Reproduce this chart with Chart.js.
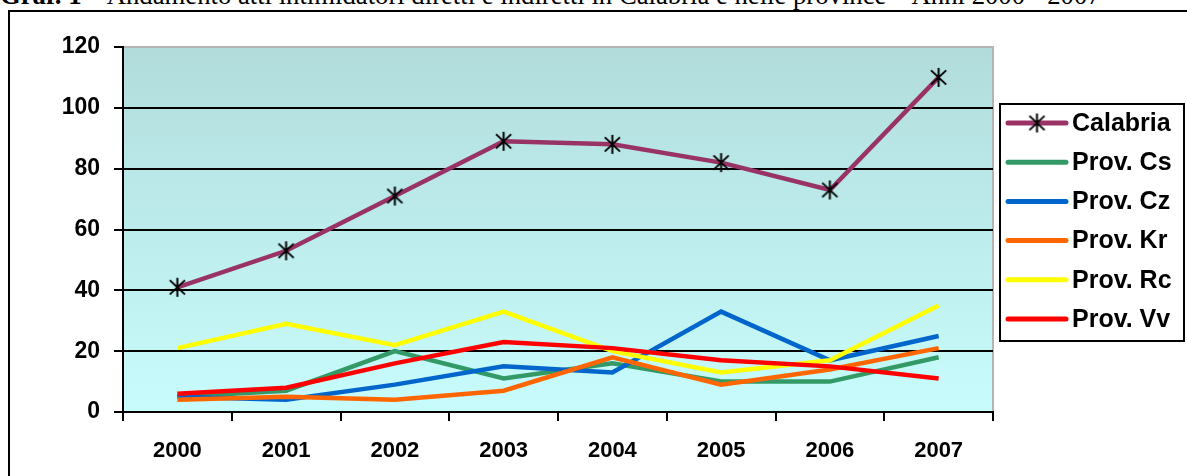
<!DOCTYPE html>
<html>
<head>
<meta charset="utf-8">
<script src="https://cdn.jsdelivr.net/npm/chart.js@4.4.1/dist/chart.umd.min.js"></script>
<style>
    html, body { margin: 0; padding: 0; background: #fff; overflow: hidden; }
    #wrap { position: relative; width: 1187px; height: 476px; }
    #title {
        position: absolute; left: 0; top: -18px; white-space: nowrap; line-height: 1;
        font-family: 'Liberation Serif', 'Times New Roman', serif; font-size: 26.7px; color: #000;
    }
    #frame {
        position: absolute; left: 8px; top: 10px; width: 1300px; height: 600px;
        border-top: 2px solid #000; border-left: 2px solid #000;
    }
    #chart { position: absolute; left: 0; top: 0; }
</style>
</head>
<body>
<div id="wrap">
    <div id="title"><b>Graf. 1</b> – Andamento atti intimidatori diretti e indiretti in Calabria e nelle province – Anni 2000 - 2007</div>
    <div id="frame"></div>
    <canvas id="chart" width="1187" height="476"></canvas>
</div>
<script>
const years = ['2000', '2001', '2002', '2003', '2004', '2005', '2006', '2007']
const yTicks = [0, 20, 40, 60, 80, 100, 120]

const seriesNames  = ['Calabria', 'Prov. Cs', 'Prov. Cz', 'Prov. Kr', 'Prov. Rc', 'Prov. Vv']
const seriesColors = ['#993366', '#339966', '#0066CC', '#FF6600', '#FFFF00', '#FF0000']

const calabria = [41, 53, 71, 89, 88, 82, 73, 110]
const provCs   = [5, 7, 20, 11, 16, 10, 10, 18]
const provCz   = [5, 4, 9, 15, 13, 33, 17, 25]
const provKr   = [4, 5, 4, 7, 18, 9, 14, 21]
const provRc   = [21, 29, 22, 33, 20, 13, 17, 35]
const provVv   = [6, 8, 16, 23, 21, 17, 15, 11]

const seriesValues = [calabria, provCs, provCz, provKr, provRc, provVv]

const FONT = "'Liberation Sans', Arial, sans-serif"

// Excel style star marker: X plus vertical bar
function makeStar(size) {
    const c   = document.createElement('canvas')
    c.width   = size
    c.height  = size
    const g   = c.getContext('2d')
    const m   = size / 2
    const r   = size / 2 - 1
    g.strokeStyle = '#000'
    g.lineWidth   = 2
    g.beginPath()
    g.moveTo(m, m - r); g.lineTo(m, m + r)
    g.moveTo(m - r * 0.8, m - r * 0.75); g.lineTo(m + r * 0.8, m + r * 0.75)
    g.moveTo(m - r * 0.8, m + r * 0.75); g.lineTo(m + r * 0.8, m - r * 0.75)
    g.stroke()
    return c
}
const star = makeStar(21)

const plotBackground = {
    id: 'plotBackground',
    beforeDraw(chart) {
        const {ctx, chartArea: a} = chart
        const grad = ctx.createLinearGradient(0, a.top, 0, a.bottom)
        grad.addColorStop(0, '#B2DCDC')
        grad.addColorStop(1, '#C8FCFC')
        ctx.save()
        ctx.fillStyle = grad
        ctx.fillRect(a.left, a.top, a.right - a.left, a.bottom - a.top)
        ctx.strokeStyle = '#B4B4B4'
        ctx.lineWidth   = 2
        ctx.beginPath()
        ctx.moveTo(a.left, a.top)
        ctx.lineTo(a.right, a.top)
        ctx.lineTo(a.right, a.bottom)
        ctx.stroke()
        ctx.restore()
    }
}

const boxLegend = {
    id: 'boxLegend',
    afterDraw(chart) {
        const ctx = chart.ctx
        const x = 1000, y = 104, w = 184, h = 237
        ctx.save()
        ctx.fillStyle   = '#fff'
        ctx.fillRect(x, y, w, h)
        ctx.strokeStyle = '#000'
        ctx.lineWidth   = 2
        ctx.strokeRect(x, y, w, h)
        chart.data.datasets.forEach((ds, i) => {
            const ly = y + 19 + i * 39.2
            ctx.strokeStyle = ds.borderColor
            ctx.lineWidth   = 5
            ctx.lineCap     = 'round'
            ctx.beginPath()
            ctx.moveTo(1008, ly)
            ctx.lineTo(1066, ly)
            ctx.stroke()
            if (ds.pointStyle instanceof HTMLCanvasElement) {
                ctx.drawImage(ds.pointStyle, 1037 - ds.pointStyle.width / 2, ly - ds.pointStyle.height / 2)
            }
            ctx.fillStyle    = '#000'
            ctx.font         = 'bold 25px ' + FONT
            ctx.textBaseline = 'middle'
            ctx.textAlign    = 'left'
            ctx.fillText(ds.label, 1072, ly + 1)
        })
        ctx.restore()
    }
}

new Chart(document.getElementById('chart'), {
    type   : 'line',
    data   : {
        labels  : years,
        datasets: seriesNames.map((name, i) => ({
            label      : name,
            data       : seriesValues[i],
            borderColor: seriesColors[i],
            borderWidth: 4.5,
            tension    : 0,
            order      : seriesNames.length - 1 - i,
            pointStyle : i === 0 ? star : 'circle',
            pointRadius: i === 0 ? 10 : 0,
            pointHoverRadius: i === 0 ? 10 : 0,
        }))
    },
    plugins: [plotBackground, boxLegend],
    options: {
        responsive: false,
        animation : false,
        events    : [],
        layout    : {padding: {left: 0, top: 47, right: 194, bottom: 0}},
        plugins   : {legend: {display: false}, tooltip: {enabled: false}},
        scales    : {
            x: {
                offset: true,
                grid  : {offset: true, drawOnChartArea: false, drawTicks: true, tickLength: 9, color: '#000', lineWidth: 2},
                border: {color: '#000', width: 2},
                ticks : {color: '#000', font: {family: FONT, size: 22, weight: 'bold'}, padding: 17},
                afterFit(scale) { scale.height = 64 }
            },
            y: {
                min   : 0,
                max   : 120,
                afterBuildTicks(scale) { scale.ticks = yTicks.map(v => ({value: v})) },
                grid  : {
                    tickLength: 9,
                    lineWidth : 2,
                    tickColor : '#000',
                    color     : c => (c.tick && c.tick.value === 120) ? 'rgba(0,0,0,0)' : '#000'
                },
                border: {color: '#000', width: 2},
                ticks : {color: '#000', font: {family: FONT, size: 23, weight: 'bold'}, padding: 14},
                afterFit(scale) { scale.width = 123 }
            }
        }
    }
})
</script>
</body>
</html>
